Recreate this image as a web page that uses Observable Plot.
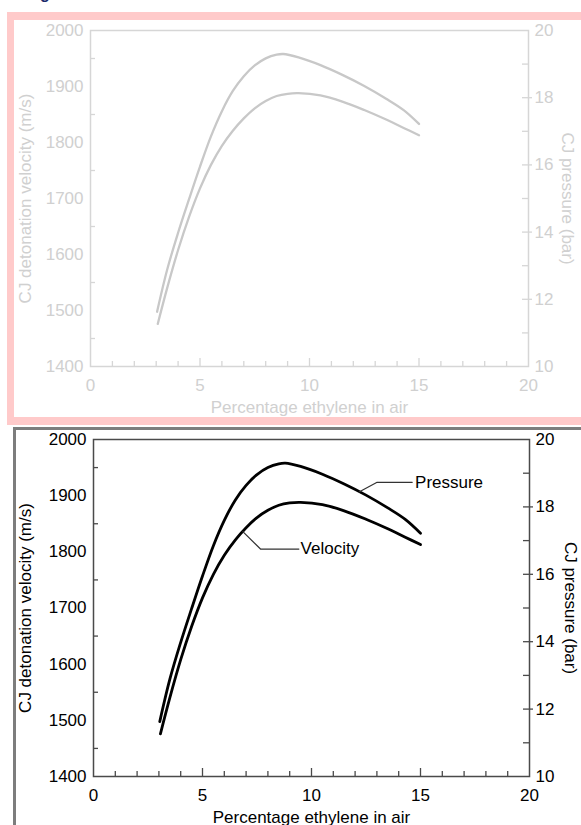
<!DOCTYPE html>
<html><head><meta charset="utf-8">
<script src="https://cdn.jsdelivr.net/npm/d3@7"></script>
<script src="https://cdn.jsdelivr.net/npm/@observablehq/plot@0.6"></script>
<style>
html,body{margin:0;padding:0;width:581px;height:825px;overflow:hidden;background:#fff;font-family:"Liberation Sans",Arial,Helvetica,sans-serif;}
#cut{position:absolute;left:40px;top:-15px;font:bold 16px "Liberation Sans",Arial,sans-serif;color:#1b2a6b;line-height:18px;}
#pink{position:absolute;left:7px;top:12px;width:620px;height:397px;border:8px solid #ffcaca;border-left-width:7px;background:#fff;}
#grey{position:absolute;left:13px;top:427px;width:620px;height:420px;border:3px solid #7d7d7d;background:#fff;}
#top,#bottom{position:absolute;left:0;}
#top{top:0px}
#bottom{top:427px}
</style></head>
<body>
<div id="cut">g</div>
<div id="pink"></div>
<div id="grey"></div>
<div id="top"></div>
<div id="bottom"></div>
<script>
// ---- data ----
const velocityPct = [3.07, 3.5, 4.0, 4.5, 5.0, 5.5, 6.0, 6.5, 7.0, 7.5, 8.0, 8.5, 9.0, 9.5, 10.5, 11.5, 12.5, 13.5, 14.3, 15.0];
const velocityMs  = [1476, 1540, 1608, 1667, 1718, 1760, 1794, 1821, 1843, 1861, 1874, 1883, 1887, 1888, 1884, 1873, 1858, 1841, 1826, 1813];
const pressurePct = [3.04, 3.5, 4.0, 4.5, 5.0, 5.5, 6.0, 6.5, 7.0, 7.5, 8.0, 8.5, 8.8, 9.5, 10.5, 11.5, 12.5, 13.5, 14.3, 15.0];
const pressureBar = [11.63, 12.88, 13.98, 14.98, 15.95, 16.85, 17.6, 18.2, 18.64, 18.96, 19.17, 19.28, 19.3, 19.2, 18.97, 18.68, 18.35, 17.97, 17.63, 17.22];
const xTicks = [0, 5, 10, 15, 20];
const xMinorTicks = [1,2,3,4,6,7,8,9,11,12,13,14,16,17,18,19];
const xMidTicks = [5, 10, 15];
const velocityTicks = [1400, 1500, 1600, 1700, 1800, 1900, 2000];
const velocityMinorTicks = [1450, 1550, 1650, 1750, 1850, 1950];
const pressureTicks = [10, 12, 14, 16, 18, 20];
const pressureMajorTicks = [12, 14, 16, 18];
const pressureMinorTicks = [11, 13, 15, 17, 19];
const velocityLeaderPct = [6.85, 7.66, 9.42];
const velocityLeaderMs = [1836, 1805, 1805];
const pressureLeaderPct = [12.2, 13.01, 14.62];
const pressureLeaderBar = [18.45, 18.73, 18.73];
const labelNames = ["Velocity", "Pressure"];
const labelPct = [9.5, 14.75];
const labelY = [1805, 18.73];
const xTitle = "Percentage ethylene in air";
const yTitle = "CJ detonation velocity (m/s)";
const y2Title = "CJ pressure (bar)";

// pressure (right axis, 10–20 bar) shares the plot with velocity (left axis, 1400–2000 m/s)
const toV = p => 1400 + (p - 10) * 60;

const velocity = velocityPct.map((x, i) => ({x, y: velocityMs[i]}));
const pressure = pressurePct.map((x, i) => ({x, y: toV(pressureBar[i])}));
const vLeader = velocityLeaderPct.map((x, i) => ({x, y: velocityLeaderMs[i]}));
const pLeader = pressureLeaderPct.map((x, i) => ({x, y: toV(pressureLeaderBar[i])}));
const labels = [
  {x: labelPct[0], y: labelY[0], t: labelNames[0]},
  {x: labelPct[1], y: toV(labelY[1]), t: labelNames[1]}
];

const FONT = '"Liberation Sans", Arial, Helvetica, sans-serif';

function chart(o) {
  const W = 581 - o.ml - o.mr;
  const H = o.height - o.mt - o.mb;
  const fs = 17;
  const marks = [
    Plot.frame({stroke: o.axis, strokeWidth: 1.5}),
    // inward minor ticks on x
    Plot.tickX(xMinorTicks, {x: d => d, stroke: o.axis, strokeWidth: 1.3, insetTop: H - 5}),
    Plot.tickX(xMidTicks, {x: d => d, stroke: o.axis, strokeWidth: 1.3, insetTop: H - 8}),
    // left axis minor ticks
    Plot.tickY(velocityMinorTicks, {y: d => d, stroke: o.axis, strokeWidth: 1.3, insetRight: W - 5}),
    // right axis ticks
    Plot.tickY(pressureMinorTicks, {y: toV, stroke: o.axis, strokeWidth: 1.3, insetLeft: W - 6}),
    Plot.tickY(pressureMajorTicks, {y: toV, stroke: o.axis, strokeWidth: 1.3, insetLeft: W - 6, insetRight: -4}),
    // curves
    Plot.line(velocity, {x: "x", y: "y", curve: "catmull-rom", stroke: o.line, strokeWidth: o.lw}),
    Plot.line(pressure, {x: "x", y: "y", curve: "catmull-rom", stroke: o.line, strokeWidth: o.lw}),
    // tick labels
    Plot.text(xTicks, {x: d => d, frameAnchor: "bottom", lineAnchor: "middle", textAnchor: "middle", dy: 19, text: d => String(d), fill: o.text, fontSize: fs}),
    Plot.text(velocityTicks, {y: d => d, frameAnchor: "left", lineAnchor: "middle", textAnchor: "end", dx: -7, text: d => String(d), fill: o.text, fontSize: fs}),
    Plot.text(pressureTicks, {y: toV, frameAnchor: "right", lineAnchor: "middle", textAnchor: "start", dx: 6, text: d => String(d), fill: o.text, fontSize: fs}),
    // axis titles
    Plot.text([xTitle], {frameAnchor: "bottom", lineAnchor: "middle", textAnchor: "middle", dy: 41, text: d => d, fill: o.text, fontSize: fs}),
    Plot.text([yTitle], {frameAnchor: "left", lineAnchor: "middle", textAnchor: "middle", rotate: -90, dx: o.ylx, text: d => d, fill: o.text, fontSize: fs}),
    Plot.text([y2Title], {frameAnchor: "right", lineAnchor: "middle", textAnchor: "middle", rotate: 90, dx: o.y2x, text: d => d, fill: o.text, fontSize: fs})
  ];
  if (o.annot) {
    marks.push(
      Plot.line(vLeader, {x: "x", y: "y", stroke: "#333", strokeWidth: 1.2}),
      Plot.line(pLeader, {x: "x", y: "y", stroke: "#333", strokeWidth: 1.2}),
      Plot.text(labels, {x: "x", y: "y", text: "t", textAnchor: "start", lineAnchor: "middle", fill: "#000", fontSize: fs})
    );
  }
  return Plot.plot({
    width: 581, height: o.height,
    marginLeft: o.ml, marginRight: o.mr, marginTop: o.mt, marginBottom: o.mb,
    x: {domain: [0, 20], axis: null},
    y: {domain: [1400, 2000], axis: null},
    style: {fontFamily: FONT, fontSize: "17px", background: "transparent", overflow: "visible", color: o.text},
    marks
  });
}

document.getElementById("top").append(chart({
  height: 425, ml: 90, mr: 53, mt: 30, mb: 59,
  axis: "#d6d6d6", line: "#c8c8c8", text: "#d0d0d0", lw: 2.3, ylx: -65, y2x: 39, annot: false
}));
document.getElementById("bottom").append(chart({
  height: 398, ml: 93, mr: 52, mt: 12, mb: 49,
  axis: "#4a4a4a", line: "#000", text: "#000", lw: 2.8, ylx: -68, y2x: 41, annot: true
}));
</script>
</body></html>
